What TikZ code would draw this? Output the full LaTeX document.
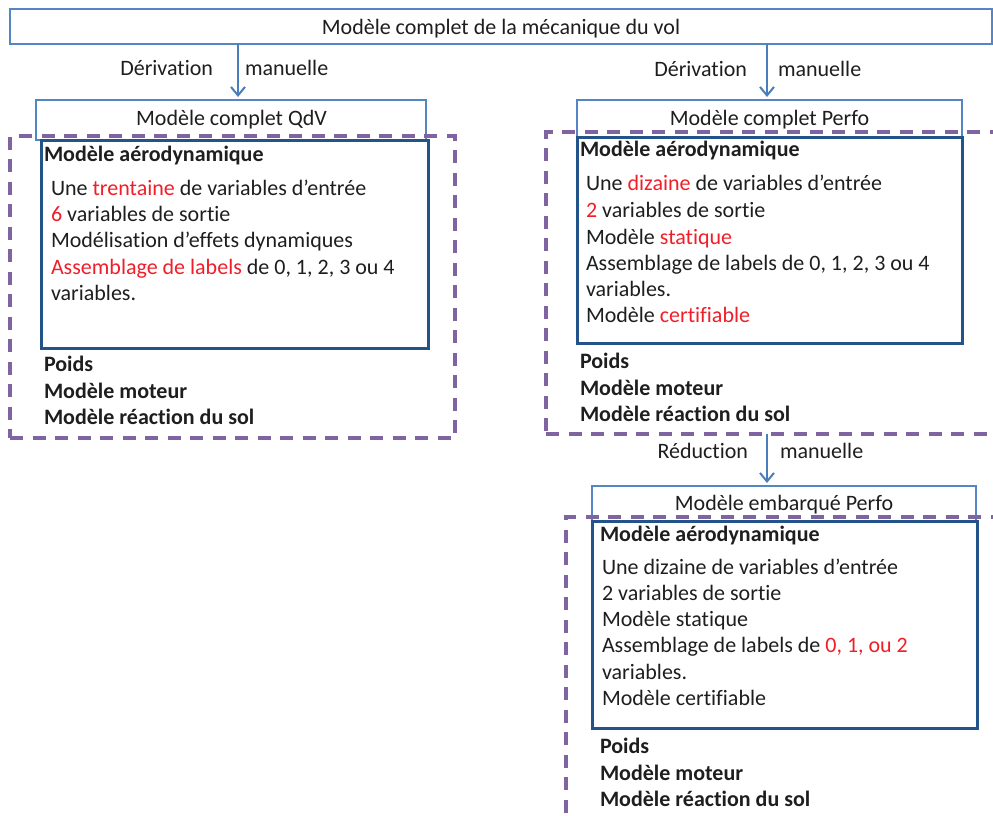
\documentclass[tikz,border=0pt]{standalone}
\usepackage{fontspec}
\setmainfont{Carlito}[Ligatures=NoCommon]
\usetikzlibrary{arrows.meta}
\definecolor{txt}{RGB}{30,30,30}
\definecolor{thinblue}{RGB}{84,134,196}
\definecolor{arrblue}{RGB}{74,126,187}
\definecolor{navy}{RGB}{34,84,137}
\definecolor{purp}{RGB}{128,100,162}
\definecolor{tred}{RGB}{240,30,40}
\newcommand\rdtxt[1]{\textcolor{tred}{#1}}
\begin{document}
\begin{tikzpicture}[x=1pt,y=-1pt,
  every node/.style={inner sep=0pt, outer sep=0pt, text=txt, font=\fontsize{22}{26}\selectfont},
  thinbox/.style={draw=thinblue, line width=1.2pt, fill=white, anchor=north west},
  dashbox/.style={draw=purp, line width=3.3pt, dash pattern=on 13pt off 9.5pt, anchor=north west},
  navybox/.style={draw=navy, line width=3pt, anchor=north west},
  arr/.style={draw=arrblue, line width=2pt, shorten >=3pt, -{Straight Barb[length=8.5pt,width=14pt]}},
  tl/.style={anchor=base west},
  bt/.style={anchor=base west, font=\fontsize{22}{26}\selectfont\bfseries},
  lbl/.style={anchor=base}
]
\useasboundingbox (0,0) rectangle (993,816);
\clip (0,0) rectangle (993,816);

% thin title boxes
\node[thinbox, minimum width=982pt, minimum height=35pt] (top) at (10,9) {};
\node[thinbox, minimum width=390pt, minimum height=40pt] (qdv) at (36,100) {};
\node[thinbox, minimum width=385pt, minimum height=37pt] (perfo) at (577,100) {};
\node[thinbox, minimum width=384pt, minimum height=35pt] (emb) at (592,486) {};

% dashed groups
\node[dashbox, minimum width=445pt, minimum height=302pt] (g1) at (10,136) {};
\node[dashbox, minimum width=448.5pt, minimum height=302pt] (g2) at (546,132) {};
\node[dashbox, minimum width=430pt, minimum height=320pt] (g3) at (566,517) {};

% navy boxes
\node[navybox, minimum width=387pt, minimum height=208pt] (n1) at (41,140) {};
\node[navybox, minimum width=385pt, minimum height=206pt] (n2) at (577,137) {};
\node[navybox, minimum width=385pt, minimum height=207pt] (n3) at (592,521) {};

% header texts
\node[lbl] (toptxt) at (501,34.3) {Modèle complet de la mécanique du vol};
\node[lbl] (qdvtxt) at (231.5,125) {Modèle complet QdV};
\node[lbl] (perfotxt) at (769.5,125.7) {Modèle complet Perfo};
\node[lbl] (embtxt) at (784,510.7) {Modèle embarqué Perfo};

% arrows
\coordinate (c1) at (238,0);
\coordinate (c2) at (767,0);
\draw[arr] (top.south -| c1) -- (qdv.north -| c1);
\draw[arr] (top.south -| c2) -- (perfo.north -| c2);
\draw[arr] (g2.south -| c2) -- (emb.north -| c2);
\node[anchor=base east] (d1) at (213,75) {Dérivation};
\node[anchor=base west] (m1) at (245,75) {manuelle};
\node[anchor=base east] (d2) at (747,77) {Dérivation};
\node[anchor=base west] (m2) at (778,77) {manuelle};
\node[anchor=base east] (d3) at (748,458) {Réduction};
\node[anchor=base west] (m3) at (780,458) {manuelle};

% left block
\node[bt] (l0) at (44,161) {Modèle aérodynamique};
\node[tl] (l1) at (51,195) {Une \rdtxt{trentaine} de variables d’entrée};
\node[tl] (l2) at (51,221) {\rdtxt{6} variables de sortie};
\node[tl] (l3) at (51,247.5) {Modélisation d’effets dynamiques};
\node[tl] (l4) at (51,274) {\rdtxt{Assemblage de labels} de 0, 1, 2, 3 ou 4};
\node[tl] (l5) at (51,300) {variables.};
\node[bt] (l6) at (44,371.5) {Poids};
\node[bt] (l7) at (44,398) {Modèle moteur};
\node[bt] (l8) at (44,424) {Modèle réaction du sol};

% right block
\node[bt] (r0) at (580,156.7) {Modèle aérodynamique};
\node[tl] (r1) at (586,190.7) {Une \rdtxt{dizaine} de variables d’entrée};
\node[tl] (r2) at (586,217.7) {\rdtxt{2} variables de sortie};
\node[tl] (r3) at (586,244) {Modèle \rdtxt{statique}};
\node[tl] (r4) at (586,270) {Assemblage de labels de 0, 1, 2, 3 ou 4};
\node[tl] (r5) at (586,296.7) {variables.};
\node[tl] (r6) at (586,322.7) {Modèle \rdtxt{certifiable}};
\node[bt] (r7) at (580,368) {Poids};
\node[bt] (r8) at (580,395) {Modèle moteur};
\node[bt] (r9) at (580,421.7) {Modèle réaction du sol};

% bottom block
\node[bt] (b0) at (600,541.7) {Modèle aérodynamique};
\node[tl] (b1) at (602,574) {Une dizaine de variables d’entrée};
\node[tl] (b2) at (602,600) {2 variables de sortie};
\node[tl] (b3) at (602,626.7) {Modèle statique};
\node[tl] (b4) at (602,652.7) {Assemblage de labels de \rdtxt{0, 1, ou 2}};
\node[tl] (b5) at (602,679) {variables.};
\node[tl] (b6) at (602,705) {Modèle certifiable};
\node[bt] (b7) at (600,753) {Poids};
\node[bt] (b8) at (600,780) {Modèle moteur};
\node[bt] (b9) at (600,806) {Modèle réaction du sol};
\end{tikzpicture}
\end{document}
